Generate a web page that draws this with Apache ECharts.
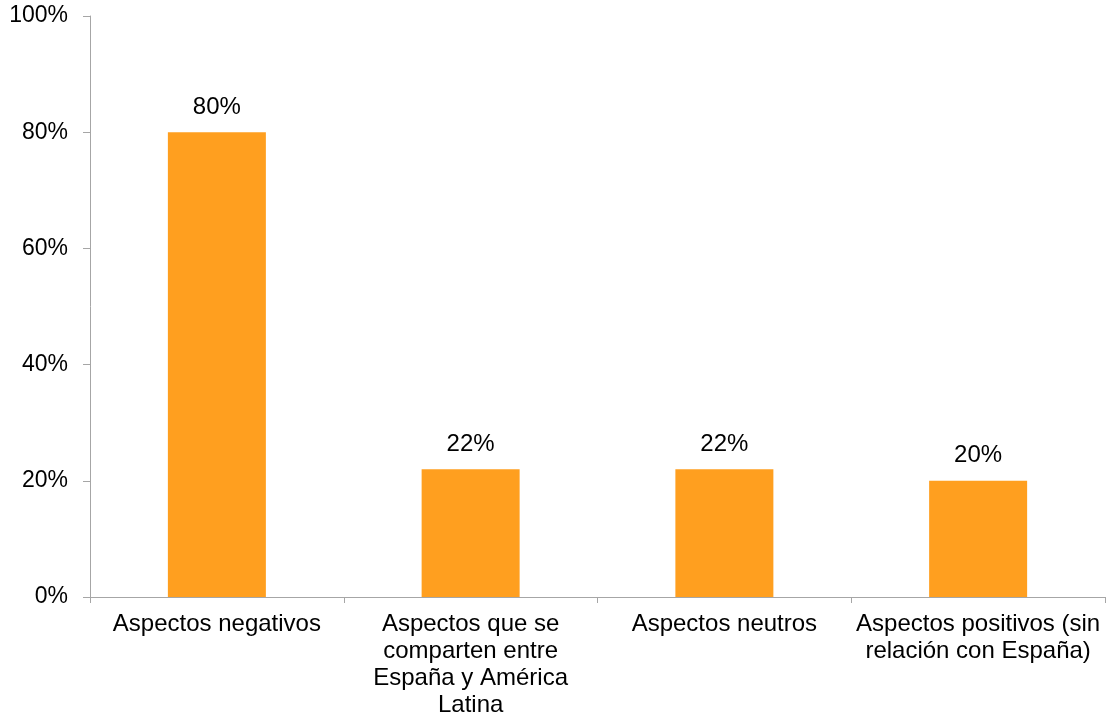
<!DOCTYPE html>
<html>
<head>
<meta charset="utf-8">
<script src="https://cdn.jsdelivr.net/npm/echarts@6/dist/echarts.min.js"></script>
<style>html,body{margin:0;padding:0;background:#fff;}#c{width:1110px;height:724px;}</style>
</head>
<body>
<div id="c"></div>
<script>
const categories = ["Aspectos negativos", "Aspectos que se\ncomparten entre\nEspaña y América\nLatina", "Aspectos neutros", "Aspectos positivos (sin\nrelación con España)"];
const values = [80, 22, 22, 20];
const yTicks = [0, 20, 40, 60, 80, 100];

const chart = echarts.init(document.getElementById('c'));
chart.setOption({
  animation: false,
  grid: { left: 90, right: 5, top: 16, bottom: 127, containLabel: false },
  xAxis: {
    type: 'category',
    data: categories,
    axisLine: { lineStyle: { color: '#A6A6A6', width: 1 } },
    axisTick: { show: true, alignWithLabel: false, length: 6, lineStyle: { color: '#A6A6A6' } },
    axisLabel: { interval: 0, color: '#000', fontFamily: 'Liberation Sans, Arial', fontSize: 24, lineHeight: 27, margin: 14 }
  },
  yAxis: {
    type: 'value',
    min: 0, max: 100, interval: 20,
    splitLine: { show: false },
    axisLine: { show: true, lineStyle: { color: '#A6A6A6', width: 1 } },
    axisTick: { show: true, length: 7, lineStyle: { color: '#A6A6A6' } },
    axisLabel: { color: '#000', fontFamily: 'Liberation Sans, Arial', fontSize: 23, margin: 22, formatter: v => yTicks.includes(v) ? v + '%' : '' }
  },
  series: [{
    type: 'bar',
    data: values,
    barWidth: 98,
    itemStyle: { color: '#FF9F1F' },
    label: { show: true, position: 'top', distance: 13, color: '#000', fontFamily: 'Liberation Sans, Arial', fontSize: 24, formatter: p => p.value + '%' }
  }]
});
</script>
</body>
</html>
